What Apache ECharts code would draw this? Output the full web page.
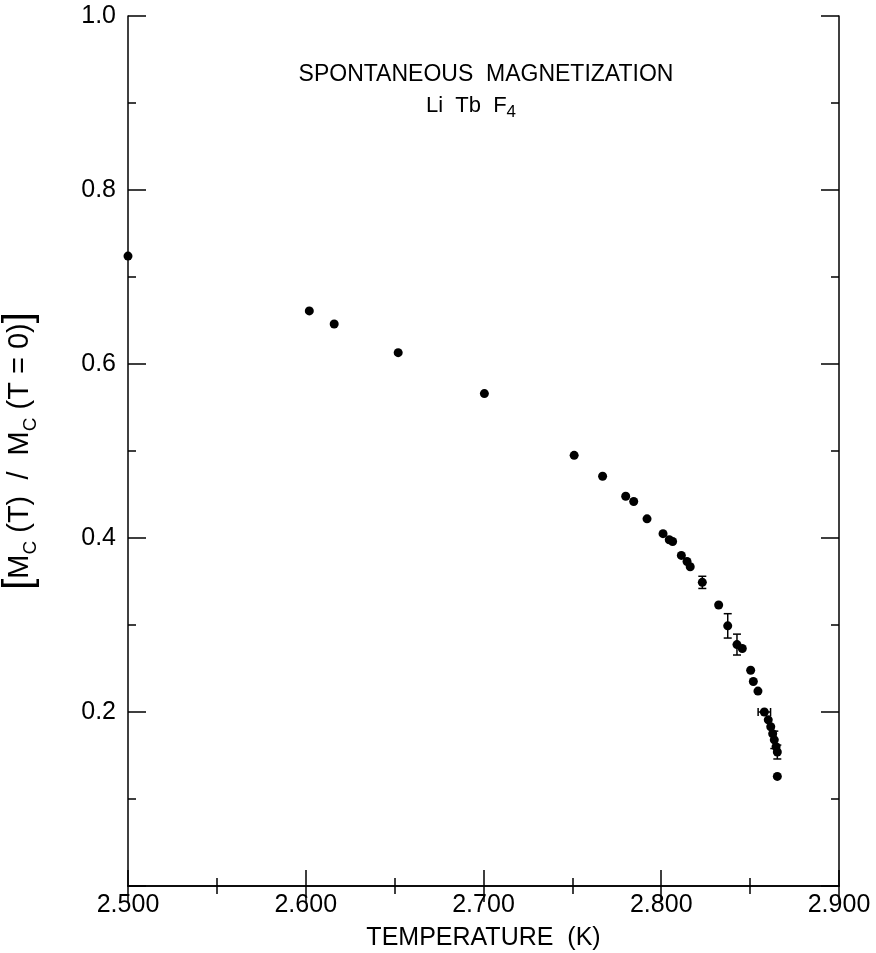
<!DOCTYPE html>
<html>
<head>
<meta charset="utf-8">
<script src="https://cdn.jsdelivr.net/npm/echarts@6/dist/echarts.min.js"></script>
<style>html,body{margin:0;padding:0;background:#fff}#c{width:876px;height:953px}</style>
</head>
<body>
<div id="c"></div>
<script>
// Temperature (K)
var temps = [2.500, 2.602, 2.616, 2.652, 2.7005, 2.751, 2.767, 2.780, 2.7845, 2.792,
  2.801, 2.8045, 2.8064, 2.8113, 2.8145, 2.8163, 2.8231, 2.8323, 2.8374, 2.8426,
  2.8456, 2.8503, 2.8518, 2.8544, 2.858, 2.8602, 2.8616, 2.8627, 2.8636, 2.8646,
  2.8653, 2.8653];
// Mc(T)/Mc(T=0)
var magn = [0.724, 0.661, 0.646, 0.613, 0.566, 0.495, 0.471, 0.448, 0.442, 0.422,
  0.405, 0.398, 0.396, 0.380, 0.373, 0.367, 0.349, 0.323, 0.299, 0.2775,
  0.273, 0.248, 0.235, 0.224, 0.200, 0.191, 0.183, 0.175, 0.168, 0.160,
  0.154, 0.126];
// vertical error (half-width) per point, 0 = none
var yErr = [0,0,0,0,0,0,0,0,0,0, 0,0,0,0,0,0,0.007,0,0.014,0.012, 0,0,0,0,0,0,0,0,0.010,0, 0.008,0];
// horizontal error (half-width) per point, 0 = none
var xErr = [0,0,0,0,0,0,0,0,0,0, 0,0,0,0,0,0,0,0,0,0, 0,0,0,0,0.0035,0,0,0,0,0, 0,0];

var xTicks = ['2.500','2.600','2.700','2.800','2.900'];
var yTicks = ['0.2','0.4','0.6','0.8','1.0'];

var FONT = 'Liberation Sans';
var pts = temps.map(function(t,i){return [t, magn[i]];});
var errPts = temps.map(function(t,i){return [t, magn[i], yErr[i], xErr[i]];})
  .filter(function(d){return d[2] > 0 || d[3] > 0;});

function xAxisDef(show, pos){
  return {
    type:'value', min:2.5, max:2.9, interval:0.1, position:pos,
    axisLine:{show:true, lineStyle:{color:'#000', width:1.5}},
    axisTick:{show:true, inside:true, length:16, lineStyle:{color:'#000', width:1.5}},
    minorTick:{show:true, splitNumber:2, length:8, lineStyle:{color:'#000', width:1.5}},
    splitLine:{show:false},
    axisLabel:{show:show, margin:7, color:'#000', fontFamily:FONT, fontSize:25,
      formatter:function(v){var i=Math.round((v-2.5)/0.1); return xTicks[i]||'';}},
    name: show ? 'TEMPERATURE  (K)' : '', nameLocation:'middle', nameGap:40,
    nameTextStyle:{color:'#000', fontFamily:FONT, fontSize:25}
  };
}
function yAxisDef(show, pos){
  return {
    type:'value', min:0, max:1.0, interval:0.2, position:pos,
    axisLine:{show:true, lineStyle:{color:'#000', width:1.5}},
    axisTick:{show:true, inside:true, length:18, lineStyle:{color:'#000', width:1.5}},
    minorTick:{show:true, splitNumber:2, length:8, lineStyle:{color:'#000', width:1.5}},
    splitLine:{show:false},
    axisLabel:{show:show, margin:12, color:'#000', fontFamily:FONT, fontSize:25,
      formatter:function(v){var i=Math.round(v/0.2)-1; return i>=0 ? (yTicks[i]||'') : '';}},
    name: show ? '{b|[}M{s|C} (T)  /  M{s|C} (T = 0){b|]}' : '', nameLocation:'middle', nameGap:88, nameRotate:90,
    nameTextStyle:{color:'#000', fontFamily:FONT, fontSize:29,
      rich:{
        b:{fontFamily:FONT, fontSize:40, color:'#000'},
        s:{fontFamily:FONT, fontSize:19, color:'#000', verticalAlign:'bottom', padding:[12,0,0,0]}
      }}
  };
}

var chart = echarts.init(document.getElementById('c'), null, {renderer:'canvas'});
chart.setOption({
  animation:false,
  backgroundColor:'#fff',
  title:[{
    text:'SPONTANEOUS  MAGNETIZATION',
    left:481, top:58, textAlign:'center',
    textStyle:{color:'#000', fontFamily:FONT, fontSize:23, fontWeight:'normal'}
  },{
    text:'Li  Tb  F{s|4}',
    left:466, top:85, textAlign:'center',
    textStyle:{color:'#000', fontFamily:FONT, fontSize:22, fontWeight:'normal',
      rich:{s:{fontFamily:FONT, fontSize:17, color:'#000', padding:[14,0,0,0]}}}
  }],
  grid:{left:128, right:37, top:16, bottom:67, containLabel:false, outerBoundsMode:'none'},
  xAxis:[xAxisDef(true,'bottom'), xAxisDef(false,'top')],
  yAxis:[yAxisDef(true,'left'), yAxisDef(false,'right')],
  series:[
    {
      type:'scatter', data:pts, symbol:'circle', symbolSize:9,
      itemStyle:{color:'#000', opacity:1}, xAxisIndex:0, yAxisIndex:0, z:3
    },
    {
      type:'custom', data:errPts, xAxisIndex:0, yAxisIndex:0, z:2,
      renderItem:function(params, api){
        var t = api.value(0), m = api.value(1), dy = api.value(2), dx = api.value(3);
        var children = [];
        var st = {stroke:'#000', lineWidth:1.5};
        var cap = 4;
        if (dy > 0){
          var top = api.coord([t, m+dy]), bot = api.coord([t, m-dy]);
          children.push({type:'line', shape:{x1:top[0], y1:top[1], x2:bot[0], y2:bot[1]}, style:st});
          children.push({type:'line', shape:{x1:top[0]-cap, y1:top[1], x2:top[0]+cap, y2:top[1]}, style:st});
          children.push({type:'line', shape:{x1:bot[0]-cap, y1:bot[1], x2:bot[0]+cap, y2:bot[1]}, style:st});
        }
        if (dx > 0){
          var l = api.coord([t-dx, m]), r = api.coord([t+dx, m]);
          children.push({type:'line', shape:{x1:l[0], y1:l[1], x2:r[0], y2:r[1]}, style:st});
          children.push({type:'line', shape:{x1:l[0], y1:l[1]-cap, x2:l[0], y2:l[1]+cap}, style:st});
          children.push({type:'line', shape:{x1:r[0], y1:r[1]-cap, x2:r[0], y2:r[1]+cap}, style:st});
        }
        return {type:'group', children:children};
      }
    }
  ]
});
</script>
</body>
</html>
